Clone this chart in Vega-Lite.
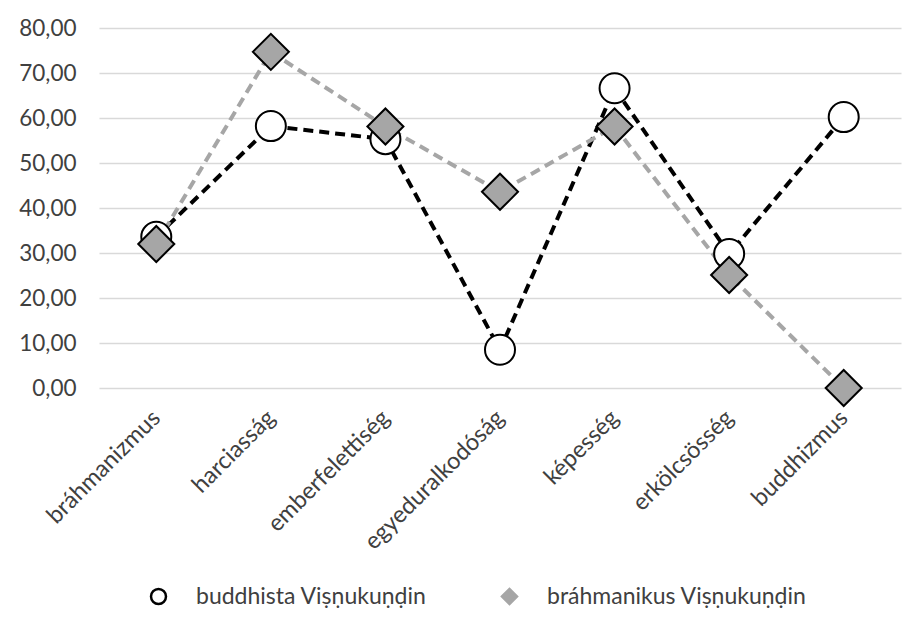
{
  "$schema": "https://vega.github.io/schema/vega-lite/v6.json",
  "width": 802,
  "height": 360,
  "autosize": {"type": "none"},
  "padding": {"left": 99, "top": 28, "right": 8, "bottom": 230},
  "background": "white",
  "config": {"view": {"stroke": null}, "font": "Lato"},
  "data": {
    "values": [
      {"cat": "bráhmanizmus", "series": "buddhista Viṣṇukuṇḍin", "value": 33.6},
      {"cat": "harciasság", "series": "buddhista Viṣṇukuṇḍin", "value": 58.2},
      {"cat": "emberfelettiség", "series": "buddhista Viṣṇukuṇḍin", "value": 55.3},
      {"cat": "egyeduralkodóság", "series": "buddhista Viṣṇukuṇḍin", "value": 8.5},
      {"cat": "képesség", "series": "buddhista Viṣṇukuṇḍin", "value": 66.6},
      {"cat": "erkölcsösség", "series": "buddhista Viṣṇukuṇḍin", "value": 29.8},
      {"cat": "buddhizmus", "series": "buddhista Viṣṇukuṇḍin", "value": 60.2},
      {"cat": "bráhmanizmus", "series": "bráhmanikus Viṣṇukuṇḍin", "value": 32.0},
      {"cat": "harciasság", "series": "bráhmanikus Viṣṇukuṇḍin", "value": 74.7},
      {"cat": "emberfelettiség", "series": "bráhmanikus Viṣṇukuṇḍin", "value": 58.1},
      {"cat": "egyeduralkodóság", "series": "bráhmanikus Viṣṇukuṇḍin", "value": 43.6},
      {"cat": "képesség", "series": "bráhmanikus Viṣṇukuṇḍin", "value": 58.1},
      {"cat": "erkölcsösség", "series": "bráhmanikus Viṣṇukuṇḍin", "value": 25.1},
      {"cat": "buddhizmus", "series": "bráhmanikus Viṣṇukuṇḍin", "value": 0}
    ]
  },
  "encoding": {
    "x": {
      "field": "cat",
      "type": "nominal",
      "sort": ["bráhmanizmus", "harciasság", "emberfelettiség", "egyeduralkodóság", "képesség", "erkölcsösség", "buddhizmus"],
      "scale": {"type": "point", "padding": 0.5},
      "axis": {
        "title": null,
        "labelAngle": -45,
        "labelAlign": "right",
        "labelBaseline": "middle",
        "labelPadding": 26,
        "labelLimit": 0,
        "labelFontSize": 23.5,
        "labelColor": "#404040",
        "ticks": false,
        "domain": false,
        "grid": false
      }
    },
    "y": {
      "field": "value",
      "type": "quantitative",
      "scale": {"domain": [0, 80], "nice": false, "zero": true},
      "axis": {
        "title": null,
        "values": [0, 10, 20, 30, 40, 50, 60, 70, 80],
        "labelExpr": "replace(format(datum.value, '.2f'), '.', ',')",
        "labelFontSize": 22.5,
        "labelColor": "#404040",
        "labelPadding": 23,
        "ticks": false,
        "domain": false,
        "grid": true,
        "gridColor": "#d9d9d9",
        "gridWidth": 1.3
      }
    }
  },
  "layer": [
    {
      "mark": {"type": "line", "strokeWidth": 4, "strokeDash": [10, 6]},
      "encoding": {
        "color": {
          "field": "series",
          "type": "nominal",
          "scale": {"domain": ["buddhista Viṣṇukuṇḍin", "bráhmanikus Viṣṇukuṇḍin"], "range": ["#000000", "#a6a6a6"]}
        }
      }
    },
    {
      "mark": {"type": "point", "filled": true, "stroke": "#000000", "strokeWidth": 2, "opacity": 1},
      "encoding": {
        "shape": {
          "field": "series",
          "type": "nominal",
          "scale": {"domain": ["buddhista Viṣṇukuṇḍin", "bráhmanikus Viṣṇukuṇḍin"], "range": ["circle", "diamond"]}
        },
        "size": {
          "condition": {"test": "indexof(datum.series, 'buddhista') === 0", "value": 900},
          "value": 1300
        },
        "fill": {
          "field": "series",
          "type": "nominal",
          "scale": {"domain": ["buddhista Viṣṇukuṇḍin", "bráhmanikus Viṣṇukuṇḍin"], "range": ["#ffffff", "#a6a6a6"]},
          "legend": {
            "title": null,
            "orient": "none",
            "legendX": 48,
            "legendY": 557,
            "direction": "horizontal",
            "labelFontSize": 23,
            "labelColor": "#404040",
            "labelLimit": 0,
            "symbolSize": 225,
            "symbolStrokeWidth": 2.5,
            "labelOffset": 26,
            "columnPadding": 70
          }
        }
      }
    }
  ]
}
